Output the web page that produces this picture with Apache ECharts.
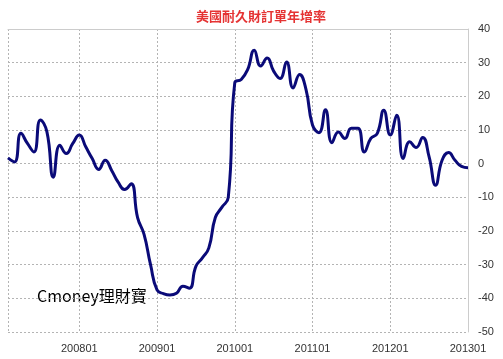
<!DOCTYPE html>
<html><head><meta charset="utf-8">
<script src="https://cdn.jsdelivr.net/npm/echarts@6/dist/echarts.min.js"></script>
<style>html,body{margin:0;padding:0;background:#fff}#c{width:503px;height:359px}</style>
</head><body><div id="c"></div>
<script>
var months = ['200702','200703','200704','200705','200706','200707','200708','200709','200710','200711','200712',
 '200801','200802','200803','200804','200805','200806','200807','200808','200809','200810','200811','200812',
 '200901','200902','200903','200904','200905','200906','200907','200908','200909','200910','200911','200912',
 '201001','201002','201003','201004','201005','201006','201007','201008','201009','201010','201011','201012',
 '201101','201102','201103','201104','201105','201106','201107','201108','201109','201110','201111','201112',
 '201201','201202','201203','201204','201205','201206','201207','201208','201209','201210','201211','201212',
 '201301'];
var growth = [1.7,0.5,9,6,3.5,13,9.5,-4,5.5,3,6,
 8.5,5,1.5,-1.7,1,-2,-5.5,-7.7,-6,-16,-21,-30,
 -37.5,-38.6,-39,-38.5,-36.4,-37,-30.5,-28,-25,-16,-13,-10,
 24,25,28,33.7,29,31.4,27.5,25.3,30.2,22.5,26.5,22,
 11.5,9.2,16,6.2,9.4,7.5,10.5,10.5,3.5,7.5,9,15.9,
 8.5,14.4,1.5,6.5,4.8,7.8,2,-6.4,1,3.3,1,-0.8,
 -1.2];
var titleText = '美國耐久財訂單年增率';
var watermark = 'Cmoney理財寶';

var chart = echarts.init(document.getElementById('c'), null, {renderer:'canvas'});
var isYearStart = function(i, v){ return v.slice(4) === '01'; };
chart.setOption({
  animation: false,
  backgroundColor: '#fff',
  title: {
    text: titleText, left: 256, top: 5, textAlign: 'center',
    textStyle: {color:'#e53333', fontSize: 13, fontWeight:'bold', fontFamily:'"Noto Sans CJK TC", sans-serif'}
  },
  grid: {left: 8, right: 35, top: 29, bottom: 27},
  xAxis: [{
    type: 'category', data: months, boundaryGap: false,
    axisLine: {show: false}, axisTick: {show: false},
    axisLabel: {interval: isYearStart, color:'#333', fontSize: 11, fontFamily:'"Liberation Sans", Arial, sans-serif', margin: 11},
    splitLine: {show: true, interval: function(i, v){ return i === 0 || isYearStart(i, v); },
      lineStyle: {color:'#b4b4b4', type:[2,2], width:1}}
  },{
    type: 'category', data: months, boundaryGap: false, position: 'top',
    axisLine: {show: true, lineStyle:{color:'#ccc', width:1}}, axisTick:{show:false}, axisLabel:{show:false}
  }],
  yAxis: {
    type: 'value', position: 'right', min: -50, max: 40, interval: 10,
    axisLine: {show: true, lineStyle:{color:'#ccc', width:1}}, axisTick:{show:false},
    axisLabel: {color:'#333', fontSize: 11, fontFamily:'"Liberation Sans", Arial, sans-serif', margin: 10},
    splitLine: {show: true, lineStyle:{color:'#b4b4b4', type:[2,2], width:1}}
  },
  graphic: [{
    type: 'text', left: 37, top: 288,
    style: {text: watermark, fill:'#000', font: '16px "Noto Sans CJK TC", "Liberation Sans", sans-serif'}
  }],
  series: [{
    type: 'line', data: growth, smooth: true, showSymbol: false,
    lineStyle: {color:'#0a0a78', width: 3}
  }]
});
</script></body></html>
